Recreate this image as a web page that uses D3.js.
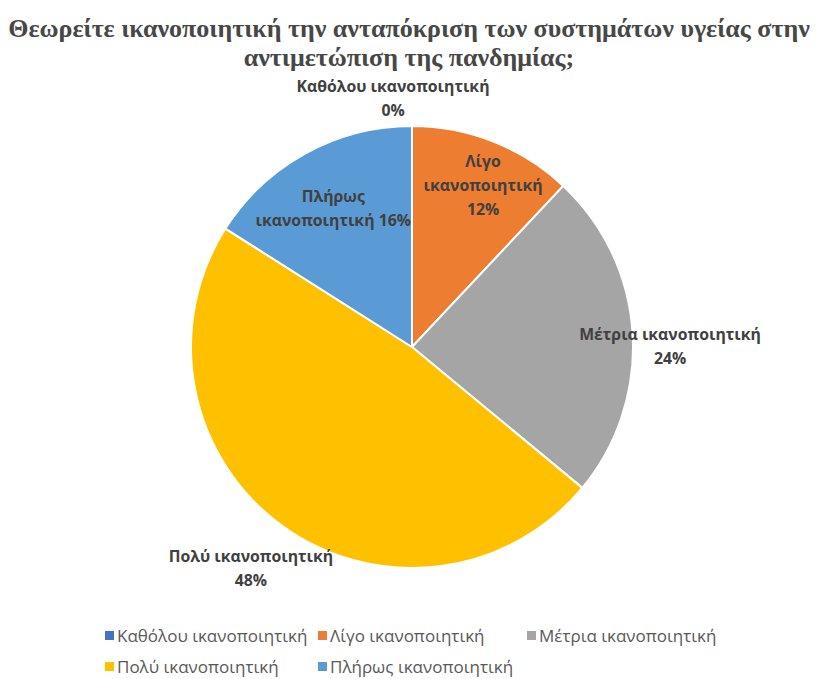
<!DOCTYPE html>
<html>
<head>
<meta charset="utf-8">
<script src="https://cdn.jsdelivr.net/npm/d3@7"></script>
<style>
  html, body { margin: 0; padding: 0; background: #ffffff; }
  svg { display: block; }
</style>
</head>
<body>
<svg id="chart" width="816" height="679"></svg>
<script>
// Survey answers and their shares (%)
const categories = [
  "Καθόλου ικανοποιητική",
  "Λίγο ικανοποιητική",
  "Μέτρια ικανοποιητική",
  "Πολύ ικανοποιητική",
  "Πλήρως ικανοποιητική"
];
const values = [0, 12, 24, 48, 16];
const colors = ["#4472C4", "#ED7D31", "#A5A5A5", "#FFC000", "#5B9BD5"];
const titleLines = [
  "Θεωρείτε ικανοποιητική την ανταπόκριση των συστημάτων υγείας στην",
  "αντιμετώπιση της πανδημίας;"
];
// How each data label is broken into lines
const labelLines = [
  ["Καθόλου ικανοποιητική", "0%"],
  ["Λίγο", "ικανοποιητική", "12%"],
  ["Μέτρια ικανοποιητική", "24%"],
  ["Πολύ ικανοποιητική", "48%"],
  ["Πλήρως", "ικανοποιητική 16%"]
];

// Layout
const W = 816, H = 679;
const cx = 412, cy = 347, R = 221;
const labelRadius = [1.12, 0.80, 1.17, 1.24, 0.74];
const labelNudge = [[-19, 0], [6, 3], [0, 16], [0, 0], [0, 5]];
const lineGap = 24;

const svg = d3.select("#chart");

// Title
svg.append("text")
  .attr("x", 409).attr("y", 37)
  .attr("text-anchor", "middle")
  .attr("font-family", "'Liberation Serif', 'Times New Roman', serif")
  .attr("font-weight", "bold")
  .attr("font-size", 26)
  .attr("fill", "#474747")
  .selectAll("tspan").data(titleLines).join("tspan")
  .attr("x", 409).attr("dy", (d, i) => i === 0 ? 0 : 29)
  .text(d => d);

// Pie
const pie = d3.pie().sort(null).value(d => d)(values);
const arc = d3.arc().innerRadius(0).outerRadius(R);

const g = svg.append("g").attr("transform", `translate(${cx},${cy})`);
g.selectAll("path.slice").data(pie).join("path")
  .attr("class", "slice")
  .attr("d", arc)
  .attr("fill", (d, i) => colors[i])
  .attr("stroke", "#ffffff")
  .attr("stroke-width", 2)
  .attr("stroke-linejoin", "round");

// Data labels
g.selectAll("text.lbl").data(pie).join("text")
  .attr("class", "lbl")
  .attr("text-anchor", "middle")
  .attr("font-family", "'Open Sans', 'Noto Sans', sans-serif")
  .attr("font-weight", "bold")
  .attr("font-size", 15.8)
  .attr("fill", "#404040")
  .each(function (d, i) {
    const a = (d.startAngle + d.endAngle) / 2;
    const r = R * labelRadius[i];
    const x = Math.sin(a) * r + labelNudge[i][0];
    const y = -Math.cos(a) * r + labelNudge[i][1];
    const lines = labelLines[i];
    const y0 = y - (lines.length - 1) * lineGap / 2 + 5;
    d3.select(this).selectAll("tspan").data(lines).join("tspan")
      .attr("x", x)
      .attr("y", (t, k) => y0 + k * lineGap)
      .text(t => t);
  });

// Legend
const legendRows = [[0, 1, 2], [3, 4]];
const colX = [105, 318, 527];
const rowY = [636, 667];
const legend = svg.append("g")
  .attr("font-family", "'Open Sans', 'Noto Sans', sans-serif")
  .attr("font-size", 17)
  .attr("fill", "#595959");
legendRows.forEach((row, r) => {
  row.forEach((idx, c) => {
    const item = legend.append("g").attr("transform", `translate(${colX[c]},${rowY[r]})`);
    item.append("rect")
      .attr("x", 0).attr("y", -5).attr("width", 9).attr("height", 9)
      .attr("fill", colors[idx]);
    item.append("text")
      .attr("x", 12).attr("y", 6)
      .text(categories[idx]);
  });
});
</script>
</body>
</html>
